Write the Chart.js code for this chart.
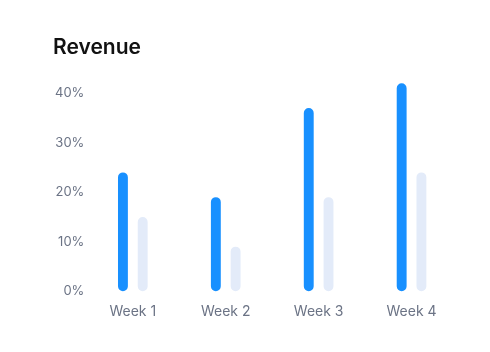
<!DOCTYPE html>
<html>
<head>
<meta charset="utf-8">
<script src="https://cdn.jsdelivr.net/npm/chart.js@4.4.1/dist/chart.umd.min.js"></script>
<style>
  html, body { margin: 0; padding: 0; background: #ffffff; }
  #wrap { width: 490px; height: 352px; position: relative; }
</style>
</head>
<body>
<div id="wrap"><canvas id="c" width="490" height="352"></canvas></div>
<script>
const categories = ["Week 1", "Week 2", "Week 3", "Week 4"];
const seriesA = [24, 19, 37, 42];
const seriesB = [15, 9, 19, 24];
const yTicks = [0, 10, 20, 30, 40];

new Chart(document.getElementById('c'), {
  type: 'bar',
  data: {
    labels: categories,
    datasets: [
      { label: 'A', data: seriesA, backgroundColor: '#1890ff', borderRadius: 5, borderSkipped: false,
        categoryPercentage: 40 / 94, barPercentage: 0.5, clip: false },
      { label: 'B', data: seriesB, backgroundColor: '#e3ebf9', borderRadius: 5, borderSkipped: false,
        categoryPercentage: 40 / 94, barPercentage: 0.5, clip: false }
    ]
  },
  options: {
    responsive: false,
    animation: false,
    devicePixelRatio: 1,
    layout: { padding: { left: 53, right: 32, top: 0, bottom: 20 } },
    plugins: {
      legend: { display: false },
      tooltip: { enabled: false },
      title: {
        display: true,
        text: 'Revenue',
        align: 'start',
        color: '#111111',
        font: { family: 'Inter', size: 21, weight: '600' },
        padding: { top: 35, bottom: 33 }
      }
    },
    scales: {
      x: {
        grid: { display: false, drawTicks: false },
        border: { display: false },
        ticks: { color: '#6b7385', font: { family: 'Inter', size: 14 }, padding: 12 }
      },
      y: {
        min: 0, max: 40,
        afterBuildTicks: (s) => { s.ticks = yTicks.map(v => ({ value: v })); },
        grid: { display: false, drawTicks: false },
        border: { display: false },
        ticks: { color: '#6b7385', font: { family: 'Inter', size: 13 }, padding: 2,
          callback: (v) => v + '%' }
      }
    }
  }
});
</script>
</body>
</html>
